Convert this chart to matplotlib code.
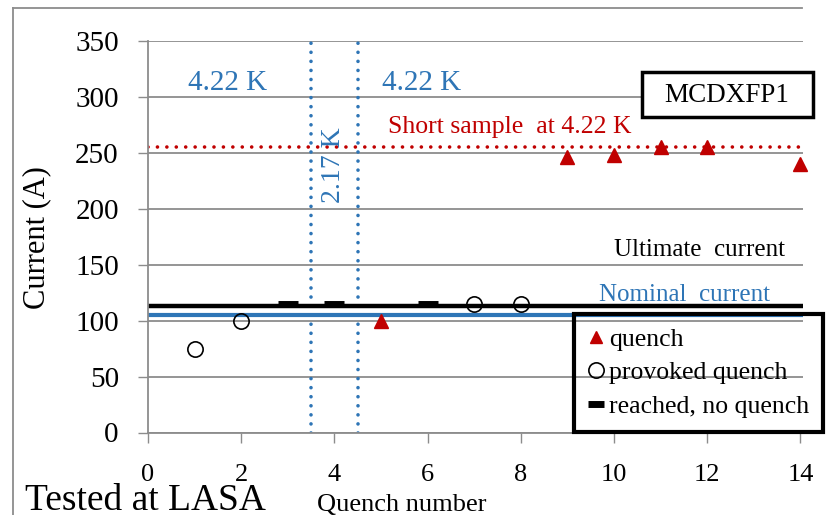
import matplotlib
matplotlib.use("Agg")
import matplotlib.pyplot as plt
from matplotlib.lines import Line2D
from matplotlib.patches import Rectangle

plt.rcParams['font.family'] = ['Liberation Serif', 'DejaVu Serif']

# ---- data ----
quench_x = [5, 9, 10, 11, 12, 14]
quench_y = [100, 246, 248, 255, 255, 240]
provoked_x = [1, 2, 7, 8]
provoked_y = [75, 100, 115, 115]
reached_x = [3, 4, 6]
reached_y = [115, 115, 115]
short_sample = 255
ultimate_current = 113
nominal_current = 105
temp_changes = [3.5, 4.5]
yticks = [0, 50, 100, 150, 200, 250, 300, 350]
xticks = [0, 2, 4, 6, 8, 10, 12, 14]

RED = '#C00000'
BLUE = '#2E75B6'
GRAY = '#8C8C8C'

W, H = 827, 515
fig = plt.figure(figsize=(W / 100, H / 100), dpi=100)
ax = fig.add_axes([148 / W, (515 - 432.5) / H, (802.7 - 148) / W, (432.5 - 40.7) / H])
ax.set_xlim(0, 14.05)
ax.set_ylim(0, 350)

ax.set_yticks(yticks)
ax.set_xticks(xticks)
ax.yaxis.grid(True, color=GRAY, lw=1.3)
ax.set_axisbelow(True)
for s in ['top', 'right']:
    ax.spines[s].set_visible(False)
for s in ['left', 'bottom']:
    ax.spines[s].set_color(GRAY)
    ax.spines[s].set_linewidth(1.3)
ax.tick_params(axis='both', direction='out', length=7, width=1.0, color=GRAY)
ax.tick_params(axis='y', labelsize=21, pad=14)
ax.tick_params(axis='x', labelsize=19, pad=16)

# reference lines
ax.axhline(short_sample, color=RED, lw=2.6, ls=(0, (0.01, 2.6)), dash_capstyle='round')
for xv in temp_changes:
    ax.axvline(xv, color=BLUE, lw=2.6, ls=(0, (0.01, 2.5)), dash_capstyle='round')
ax.axhline(ultimate_current, color='black', lw=3.2)
ax.axhline(nominal_current, color=BLUE, lw=3.0)

# data markers
ax.plot(reached_x, reached_y, ls='none', marker='_', ms=14, mew=5, color='black',
        label='reached, no quench', clip_on=False, zorder=5)
ax.plot(provoked_x, provoked_y, ls='none', marker='o', ms=11, mfc='none', mec='black',
        mew=1.2, label='provoked quench', clip_on=False, zorder=5)
ax.plot(quench_x, quench_y, ls='none', marker='^', ms=9.5, color=RED,
        label='quench', clip_on=False, zorder=5)

# text annotations
ax.text(1.7, 312, '4.22 K', color=BLUE, fontsize=21, ha='center', va='center')
ax.text(5.88, 312, '4.22 K', color=BLUE, fontsize=21, ha='center', va='center')
ax.text(3.98, 239, '2.17 K', color=BLUE, fontsize=20, ha='center', va='center', rotation=90)
ax.text(7.77, 273, 'Short sample  at 4.22 K', color=RED, fontsize=18.5, ha='center', va='center')
ax.text(13.67, 163, 'Ultimate  current', color='black', fontsize=18, ha='right', va='center')
ax.text(13.35, 123, 'Nominal  current', color=BLUE, fontsize=18, ha='right', va='center')

# legend
handles = [
    Line2D([], [], ls='none', marker='^', ms=9, color=RED),
    Line2D([], [], ls='none', marker='o', ms=11, mfc='none', mec='black', mew=1.2),
    Line2D([], [], ls='none', marker='_', ms=12, mew=5, color='black'),
]
labels = ['quench', 'provoked quench', 'reached, no quench']
leg = fig.legend(handles, labels, loc='upper left', bbox_to_anchor=(574 / W, (515 - 314) / H),
                 fontsize=18.5, frameon=True, fancybox=False,
                 facecolor='none', edgecolor='black', handlelength=0.6, handletextpad=0.2,
                 labelspacing=0.4, borderpad=0.55, borderaxespad=0)
leg.get_frame().set_linewidth(3)
leg.get_frame().set_alpha(None)

# title box
fig.patches.append(Rectangle((642 / W, (515 - 117) / H), (813 - 642) / W, (117 - 72) / H,
                             transform=fig.transFigure, facecolor='white', edgecolor='black',
                             lw=2.5, zorder=3))
fig.text(727 / W, (515 - 95) / H, 'MCDXFP1', fontsize=19.5, ha='center', va='center', zorder=4)

# outer frame
fig.add_artist(Line2D([13 / W, 13 / W], [0, (515 - 8) / H], color=GRAY, lw=1.3,
                      transform=fig.transFigure))
fig.add_artist(Line2D([13 / W, 802 / W], [(515 - 8) / H, (515 - 8) / H], color=GRAY, lw=1.3,
                      transform=fig.transFigure))

# axis labels
fig.text(37 / W, (515 - 238) / H, 'Current (A)', fontsize=22, rotation=90,
         ha='center', va='center')
fig.text(402 / W, 4 / H, 'Quench number', fontsize=19, ha='center', va='baseline')
fig.text(25 / W, 5 / H, 'Tested at LASA', fontsize=27, ha='left', va='baseline')

fig.savefig('out.png', dpi=100)
